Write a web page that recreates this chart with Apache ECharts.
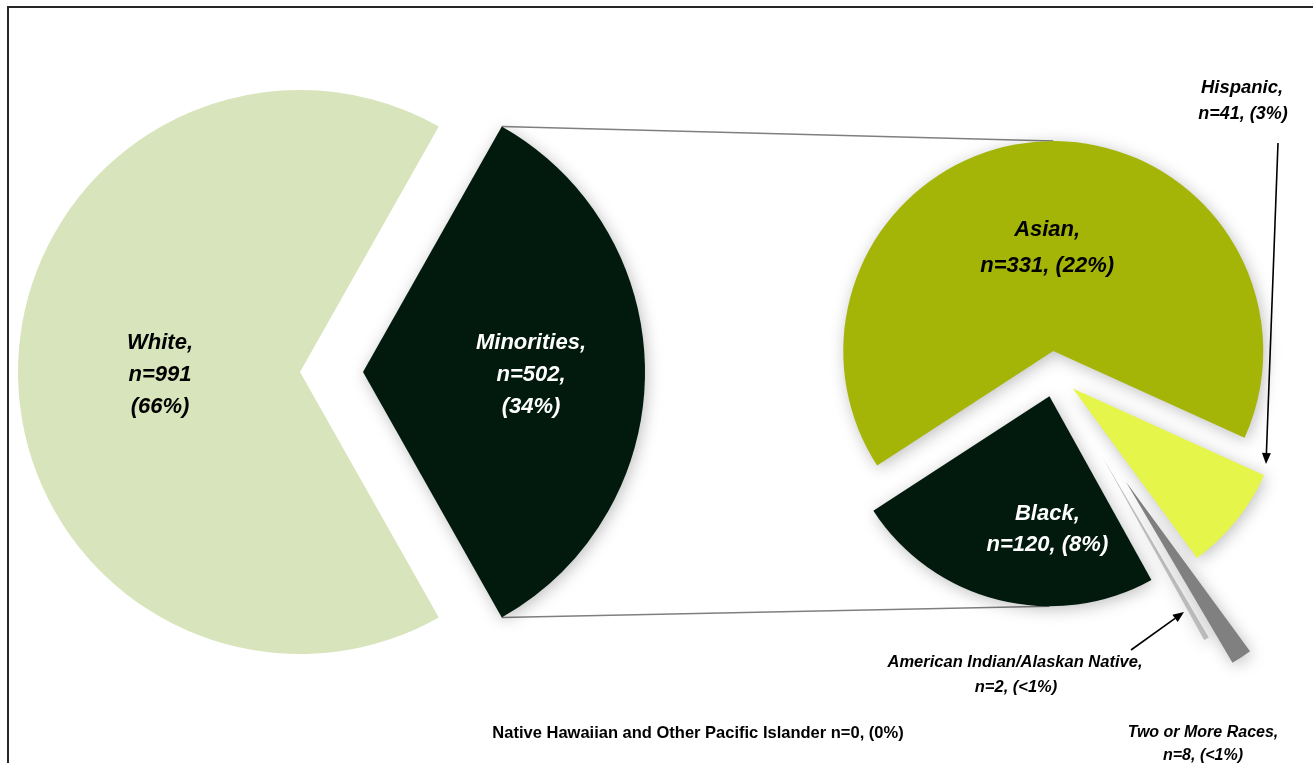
<!DOCTYPE html>
<html>
<head>
<meta charset="utf-8">
<script src="https://cdn.jsdelivr.net/npm/echarts@6/dist/echarts.min.js"></script>
<style>
html,body{margin:0;padding:0;background:#fff;}
#c{width:1313px;height:763px;}
</style>
</head>
<body>
<div id="c"></div>
<script>
// ---- data ----
const overallNames = ['Minorities', 'White'];
const overallValues = [502, 991];
const overallPct = ['34%', '66%'];

const minorityNames = ['Asian', 'Hispanic', 'Two or More Races', 'American Indian/Alaskan Native', 'Black', 'Native Hawaiian and Other Pacific Islander'];
const minorityValues = [331, 41, 8, 2, 120, 0];
const minorityPct = ['22%', '3%', '<1%', '<1%', '8%', '0%'];

// ---- styling ----
const FONT = '"Liberation Sans", Arial, sans-serif';
const overallColors = ['#021A0E', '#D8E4BC'];
const minorityColors = ['#A4B508', '#E6F54A', '#808080', '#BFBFBF', '#021A0E', '#FFFFFF'];
const overallLabelColors = ['#FFFFFF', '#000000'];
const minorityLabelColors = ['#000000', '#000000', '#000000', '#000000', '#FFFFFF', '#000000'];

// layout
const LC = [331.5, 372], LR = 282, LOFF = 31.5;
const RC = [1055, 374], RR = 210, ROFF = 23;
const R_START = 213;
const extraOffsets = { 'Two or More Races': 129, 'American Indian/Alaskan Native': 95 };

const sumO = overallValues.reduce((a, b) => a + b, 0);
const sumM = minorityValues.reduce((a, b) => a + b, 0);
const L_START = 360 * overallValues[0] / sumO / 2;

const shadow = { shadowBlur: 16, shadowColor: 'rgba(0,0,0,0.25)', shadowOffsetX: 2, shadowOffsetY: 3 };

// inside label: horizontal shift via left padding, vertical shift via a rich spacer line on top
function lbl(color, size, lh, padLeft, shiftY, lines) {
  const sp = Math.max(1, shiftY * 2);
  return {
    show: true, position: 'inside', rotate: 0, color: color, fontSize: size, lineHeight: lh,
    fontWeight: 'bold', fontStyle: 'italic', fontFamily: FONT, padding: [0, 0, 0, padLeft],
    align: 'center', verticalAlign: 'middle',
    formatter: '{sp|\u00a0}\n' + lines.map(l => '{t|' + l + '}').join('\n'),
    rich: {
      sp: { fontSize: 1, lineHeight: sp, height: sp },
      t: { color: color, fontSize: size, lineHeight: lh, fontWeight: 'bold', fontStyle: 'italic', fontFamily: FONT }
    }
  };
}

// overall pie data
const overallLines = [
  [overallNames[0] + ',', 'n=' + overallValues[0] + ',', '(' + overallPct[0] + ')'],
  [overallNames[1] + ',', 'n=' + overallValues[1], '(' + overallPct[1] + ')']
];
const overallShift = [[48, 3], [8, 3]];
const overallData = overallNames.map((n, i) => ({
  name: n, value: overallValues[i], selected: true,
  itemStyle: Object.assign({ color: overallColors[i] }, i === 0 ? shadow : {}),
  label: lbl(overallLabelColors[i], 22, 32, overallShift[i][0], overallShift[i][1], overallLines[i])
}));

// minority pie data
const insideLabelled = { 'Asian': { padL: 4, dy: 5, lh: 36 }, 'Black': { padL: 48, dy: 28, lh: 31 } };
function minorityData(visibleSet, withLabels) {
  return minorityNames.map((n, i) => {
    const vis = visibleSet.indexOf(n) >= 0;
    const d = { name: n, value: minorityValues[i], selected: true };
    if (vis) {
      d.itemStyle = Object.assign({ color: minorityColors[i] }, shadow);
    } else {
      d.itemStyle = { color: 'rgba(0,0,0,0)', shadowBlur: 0, shadowColor: 'rgba(0,0,0,0)' };
    }
    const L = insideLabelled[n];
    if (withLabels && vis && L) {
      d.label = lbl(minorityLabelColors[i], 22, L.lh, L.padL, L.dy,
        [n + ',', 'n=' + minorityValues[i] + ', (' + minorityPct[i] + ')']);
    } else {
      d.label = { show: false };
    }
    return d;
  });
}

function pieBase(center, radius, start, offset, data) {
  return {
    type: 'pie', center: center, radius: radius, startAngle: start, clockwise: true,
    selectedMode: 'multiple', selectedOffset: offset, animation: false,
    avoidLabelOverlap: false, labelLine: { show: false },
    emphasis: { disabled: true, scale: false },
    select: { itemStyle: { borderWidth: 0 } },
    itemStyle: { borderWidth: 0 },
    data: data
  };
}

const series = [
  pieBase(LC, LR, L_START, LOFF, overallData),
  pieBase(RC, RR, R_START, extraOffsets['American Indian/Alaskan Native'], minorityData(['American Indian/Alaskan Native'], false)),
  pieBase(RC, RR, R_START, extraOffsets['Two or More Races'], minorityData(['Two or More Races'], false)),
  pieBase(RC, RR, R_START, ROFF, minorityData(['Asian', 'Hispanic', 'Black'], true))
];

// ---- geometry helpers for annotations ----
function sliceMid(idx) {
  let a = R_START;
  for (let i = 0; i < idx; i++) a -= 360 * minorityValues[i] / sumM;
  return a - 180 * minorityValues[idx] / sumM;
}
function apex(idx, off) {
  const m = sliceMid(idx) * Math.PI / 180;
  return [RC[0] + off * Math.cos(m), RC[1] - off * Math.sin(m)];
}
const halfL = L_START * Math.PI / 180;
const leftTop = [LC[0] + LOFF + LR * Math.cos(halfL), LC[1] - LR * Math.sin(halfL)];
const leftBot = [LC[0] + LOFF + LR * Math.cos(halfL), LC[1] + LR * Math.sin(halfL)];
const asianApex = apex(0, ROFF);
const blackApex = apex(4, ROFF);
const rightTop = [asianApex[0], asianApex[1] - RR];
const rightBot = [blackApex[0], blackApex[1] + RR];

function arrow(x1, y1, x2, y2) {
  const ang = Math.atan2(y2 - y1, x2 - x1);
  const L = 11, Wd = 4.5;
  const bx = x2 - L * Math.cos(ang), by = y2 - L * Math.sin(ang);
  const px = -Math.sin(ang) * Wd, py = Math.cos(ang) * Wd;
  return [
    { type: 'line', silent: true, shape: { x1: x1, y1: y1, x2: bx, y2: by }, style: { stroke: '#000', lineWidth: 1.6 } },
    { type: 'polygon', silent: true, shape: { points: [[x2, y2], [bx + px, by + py], [bx - px, by - py]] }, style: { fill: '#000' } }
  ];
}
function txt(str, x, y, size, italic) {
  return {
    type: 'text', silent: true, x: x, y: y,
    style: {
      text: str, fill: '#000', fontSize: size, fontWeight: 'bold', fontStyle: italic ? 'italic' : 'normal',
      fontFamily: FONT, align: 'center', verticalAlign: 'middle'
    }
  };
}

const graphics = [
  { type: 'rect', silent: true, shape: { x: 8, y: 7, width: 1400, height: 900 }, style: { fill: 'none', stroke: '#262626', lineWidth: 2 } },
  { type: 'line', silent: true, shape: { x1: leftTop[0], y1: leftTop[1], x2: rightTop[0], y2: rightTop[1] }, style: { stroke: '#7F7F7F', lineWidth: 1.5 } },
  { type: 'line', silent: true, shape: { x1: leftBot[0], y1: leftBot[1], x2: rightBot[0], y2: rightBot[1] }, style: { stroke: '#7F7F7F', lineWidth: 1.5 } },
  txt(minorityNames[1] + ',', 1242, 88, 18.5, true),
  txt('n=' + minorityValues[1] + ', (' + minorityPct[1] + ')', 1243, 114, 18, true),
  txt(minorityNames[3] + ',', 1015, 662, 16.5, true),
  txt('n=' + minorityValues[3] + ', (' + minorityPct[3] + ')', 1016, 687, 16.5, true),
  txt(minorityNames[2] + ',', 1203, 733, 16, true),
  txt('n=' + minorityValues[2] + ', (' + minorityPct[2] + ')', 1203, 756, 16, true),
  txt(minorityNames[5] + ' n=' + minorityValues[5] + ', (' + minorityPct[5] + ')', 698, 733, 16.5, false)
].concat(arrow(1278, 143, 1266, 464), arrow(1131, 650, 1184, 612));

const chart = echarts.init(document.getElementById('c'), null, { renderer: 'canvas' });
chart.setOption({
  backgroundColor: '#FFFFFF',
  animation: false,
  tooltip: { show: false },
  series: series,
  graphic: graphics
});
</script>
</body>
</html>
